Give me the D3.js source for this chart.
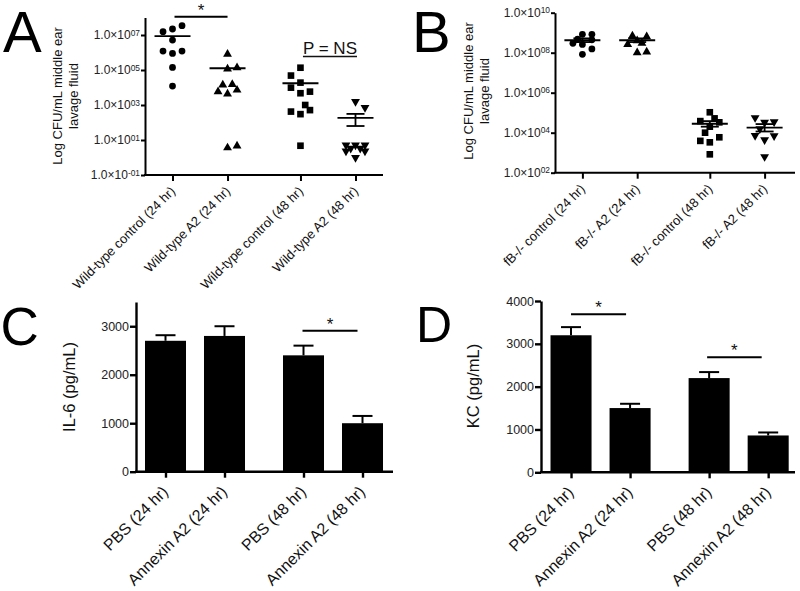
<!DOCTYPE html>
<html><head><meta charset="utf-8">
<script src="https://cdn.jsdelivr.net/npm/d3@7"></script>
<style>
body{margin:0;background:#fff}
svg{display:block}
text{font-family:"Liberation Sans",Arial,Helvetica,sans-serif}
</style>
</head><body>
<svg id="c" width="800" height="591"></svg>
<script>
// ---------------- DATA ----------------
const timepoints = ["24 hr", "48 hr"];
const treatments = ["control", "A2"];

// Panel A
const catsA = ["Wild-type control (24 hr)", "Wild-type A2 (24 hr)", "Wild-type control (48 hr)", "Wild-type A2 (48 hr)"];
const valuesA = [
  [1.55e7, 2.2e7, 3.4e7, 5.1e6, 1.2e6, 8.9e5, 1.2e6, 1.4e5, 1.2e4],
  [8.1e5, 1.15e5, 1.35e5, 1.4e4, 1.5e4, 5.8e3, 4.3e3, 7.2e3, 3.6, 4.6],
  [1.35e5, 4.8e4, 1.9e4, 9.8e3, 4.7e3, 5.8e3, 1.0e3, 420, 300, 510, 4.7],
  [1550, 710, 5.1, 5.1, 5.1, 3.3, 3.3, 2.3, 2.3, 0.98]
];
const slotsA = [
  [-1, 0, 1, 0, -1, 0, 1, 0, 0],
  [0, 0, 1, -0.5, 0.5, -1, 0, 1, 0, 1],
  [0, -1, 0, -1, 0, 1, 0.5, -1, 0, 1, 0],
  [0, 1, -1, 0, 1, -0.5, 0.5, -1, 1, 0]
];
const meansA = [8.7e6, 1.26e5, 1.75e4, 186];
const errLowA = [null, null, null, 63];
const errHighA = [null, null, null, 310];
const ticksA = [1e-1, 1e1, 1e3, 1e5, 1e7];
const tickLabelsA = [["1.0×10", "-01"], ["1.0×10", "01"], ["1.0×10", "03"], ["1.0×10", "05"], ["1.0×10", "07"]];

// Panel B
const catsB = ["fB-/- control (24 hr)", "fB-/- A2 (24 hr)", "fB-/- control (48 hr)", "fB-/- A2 (48 hr)"];
const valuesB = [
  [2.95e8, 4.7e8, 8.3e8, 8.3e8, 2.6e8, 4.4e8, 1.55e8, 8.3e7],
  [6.9e8, 2.6e8, 4.0e8, 2.95e8, 6.3e8, 1.0e8, 1.1e8],
  [1.05e5, 3.8e4, 5.2e4, 3.3e4, 2.0e4, 1.0e4, 3.9e3, 5.9e3, 3.3e3, 830],
  [5.6e4, 3.3e4, 3.5e4, 1.55e4, 7.1e3, 4.4e3, 6.9e3, 630]
];
const slotsB = [
  [-1, -0.5, 0, 1, 0, 1, 1, 0],
  [-0.5, -1, 0, 0.5, 1, 0, 1],
  [0, -1, 0.5, 1, 0, -0.5, -1, 1, 0, 0],
  [-1, 0, 1, -0.5, -1, 0, 1, 0]
];
const meansB = [4.2e8, 4.2e8, 2.8e4, 1.8e4];
const errLowB = [3.4e8, 3.4e8, 2.0e4, 1.15e4];
const errHighB = [5.2e8, 5.2e8, 3.8e4, 2.7e4];
const ticksB = [1e2, 1e4, 1e6, 1e8, 1e10];
const tickLabelsB = [["1.0×10", "02"], ["1.0×10", "04"], ["1.0×10", "06"], ["1.0×10", "08"], ["1.0×10", "10"]];

// Panel C
const catsC = ["PBS (24 hr)", "Annexin A2 (24 hr)", "PBS (48 hr)", "Annexin A2 (48 hr)"];
const valuesC = [2700, 2800, 2400, 1000];
const semC = [115, 200, 200, 150];
const ticksC = [0, 1000, 2000, 3000];

// Panel D
const catsD = ["PBS (24 hr)", "Annexin A2 (24 hr)", "PBS (48 hr)", "Annexin A2 (48 hr)"];
const valuesD = [3200, 1500, 2200, 860];
const semD = [190, 100, 140, 70];
const ticksD = [0, 1000, 2000, 3000, 4000];

// ---------------- DRAWING ----------------
const svg = d3.select("#c");
const FONT = '"Liberation Sans",Arial,Helvetica,sans-serif';
const shapes = [d3.symbolCircle, d3.symbolTriangle, d3.symbolSquare, d3.symbolTriangle];
const shapeSize = [36, 34, 44, 34];
const shapeRot = [0, 0, 0, 180];

function styleAxis(ga, sw, fs) {
  ga.attr("font-family", FONT);
  ga.select(".domain").attr("stroke", "#000").attr("stroke-width", sw);
  ga.selectAll(".tick line").attr("stroke", "#000").attr("stroke-width", sw);
  ga.selectAll(".tick text").attr("fill", "#222").attr("font-size", fs).attr("font-family", FONT);
}

function panelLetter(txt, x, y, fs) {
  svg.append("text").attr("x", x).attr("y", y).attr("font-size", fs).attr("fill", "#000").text(txt);
}

function yLabel(lines, x0, cy, fs, gap) {
  lines.forEach((l, i) => {
    svg.append("text")
      .attr("transform", `translate(${x0 + i * gap},${cy}) rotate(-90)`)
      .attr("text-anchor", "middle").attr("font-size", fs).attr("fill", "#111").text(l);
  });
}

function xLabels(ga, dx, dy, fs) {
  ga.selectAll(".tick text")
    .attr("text-anchor", "end").attr("dy", null).attr("y", null).attr("x", null)
    .attr("transform", `translate(${dx},${dy}) rotate(-45)`)
    .attr("font-size", fs).attr("fill", "#111");
}

function scatterPanel(cfg) {
  const y = d3.scaleLog().domain(cfg.yDomain).range(cfg.yRange);
  const xo = d3.scaleBand().domain(timepoints).range(cfg.bandRange).paddingInner(0.14).paddingOuter(0);
  const xi = d3.scalePoint().domain(treatments).range([0, xo.bandwidth()]).padding(0.5);
  const catX = i => xo(timepoints[Math.floor(i / 2)]) + xi(treatments[i % 2]);
  const xc = d3.scaleOrdinal().domain(cfg.cats).range(cfg.cats.map((c, i) => catX(i)));
  const g = svg.append("g");
  const x0 = cfg.axisX, yb = y(cfg.yDomain[0]);

  // y axis
  const ga = g.append("g").attr("transform", `translate(${x0},0)`)
    .call(d3.axisLeft(y).tickValues(cfg.ticks).tickSize(4).tickSizeOuter(0).tickPadding(1).tickFormat(() => ""));
  styleAxis(ga, 2, 12);
  ga.selectAll(".tick text").each(function (d, i) {
    const t = d3.select(this);
    t.text(null);
    t.append("tspan").text(cfg.tickLabels[i][0]);
    t.append("tspan").attr("dy", "-0.45em").attr("font-size", "0.7em").text(cfg.tickLabels[i][1]);
  });
  // x axis line
  g.append("line").attr("x1", x0 - 1).attr("x2", cfg.axisEnd).attr("y1", yb).attr("y2", yb)
    .attr("stroke", "#000").attr("stroke-width", 2);
  const gx = g.append("g").attr("transform", `translate(0,${yb})`)
    .call(d3.axisBottom(xc).tickSize(6).tickSizeOuter(0));
  gx.select(".domain").remove();
  styleAxis(gx, 2, 13);
  xLabels(gx, 3, 17, 13);

  // points
  cfg.values.forEach((vals, gi) => {
    g.append("g").selectAll("path").data(vals).join("path")
      .attr("d", d3.symbol().type(shapes[gi]).size(shapeSize[gi]))
      .attr("transform", (v, k) => `translate(${catX(gi) + cfg.slots[gi][k] * 9.5},${y(v)}) rotate(${shapeRot[gi]})`)
      .attr("fill", "#000");
    const cx = catX(gi);
    g.append("line").attr("x1", cx - 18).attr("x2", cx + 18).attr("y1", y(cfg.means[gi])).attr("y2", y(cfg.means[gi]))
      .attr("stroke", "#000").attr("stroke-width", 1.8);
    if (cfg.errLow[gi] != null) {
      const lo = y(cfg.errLow[gi]), hi = y(cfg.errHigh[gi]);
      g.append("line").attr("x1", cx).attr("x2", cx).attr("y1", lo).attr("y2", hi).attr("stroke", "#000").attr("stroke-width", 1.8);
      [lo, hi].forEach(yy => g.append("line").attr("x1", cx - 9).attr("x2", cx + 9).attr("y1", yy).attr("y2", yy)
        .attr("stroke", "#000").attr("stroke-width", 1.8));
    }
  });
  return { catX, y };
}

function barPanel(cfg) {
  const y = d3.scaleLinear().domain(cfg.yDomain).range(cfg.yRange);
  const xo = d3.scaleBand().domain(timepoints).range(cfg.bandRange).paddingInner(0.0145).paddingOuter(0);
  const xi = d3.scaleBand().domain(treatments).range([0, xo.bandwidth()]).padding(0.305);
  const barX = i => xo(timepoints[Math.floor(i / 2)]) + xi(treatments[i % 2]);
  const catX = i => barX(i) + xi.bandwidth() / 2;
  const xc = d3.scaleOrdinal().domain(cfg.cats).range(cfg.cats.map((c, i) => catX(i)));
  const g = svg.append("g");
  const x0 = cfg.axisX, yb = y(0);

  const ga = g.append("g").attr("transform", `translate(${x0},0)`)
    .call(d3.axisLeft(y).tickValues(cfg.ticks).tickFormat(d3.format("d")).tickSize(6).tickSizeOuter(0).tickPadding(1));
  styleAxis(ga, 2.4, 12.5);

  // bars
  g.append("g").selectAll("rect").data(cfg.values).join("rect")
    .attr("x", (v, i) => barX(i)).attr("width", xi.bandwidth())
    .attr("y", v => y(v)).attr("height", v => yb - y(v)).attr("fill", "#000");
  // error bars (upper)
  cfg.values.forEach((v, i) => {
    const cx = catX(i), top = y(v + cfg.sem[i]);
    g.append("line").attr("x1", cx).attr("x2", cx).attr("y1", y(v)).attr("y2", top).attr("stroke", "#000").attr("stroke-width", 2);
    g.append("line").attr("x1", cx - 10).attr("x2", cx + 10).attr("y1", top).attr("y2", top).attr("stroke", "#000").attr("stroke-width", 2);
  });

  g.append("line").attr("x1", x0 - 1).attr("x2", cfg.axisEnd).attr("y1", yb).attr("y2", yb)
    .attr("stroke", "#000").attr("stroke-width", 2.4);
  const gx = g.append("g").attr("transform", `translate(0,${yb})`)
    .call(d3.axisBottom(xc).tickSize(6).tickSizeOuter(0));
  gx.select(".domain").remove();
  styleAxis(gx, 2.4, 16);
  xLabels(gx, 3, 21, 16);
  return { catX, y };
}

function sigStar(x1, x2, yLine, fs) {
  svg.append("line").attr("x1", x1).attr("x2", x2).attr("y1", yLine).attr("y2", yLine)
    .attr("stroke", "#000").attr("stroke-width", 2);
  svg.append("text").attr("x", (x1 + x2) / 2).attr("y", yLine - 1).attr("text-anchor", "middle")
    .attr("font-size", fs).attr("fill", "#111").text("*");
}

// ---- Panel A ----
const pA = scatterPanel({
  cats: catsA, values: valuesA, slots: slotsA, means: meansA, errLow: errLowA, errHigh: errHighA,
  yDomain: [1e-1, 1e8], yRange: [175, 17.5], bandRange: [145, 383], axisX: 145, axisEnd: 383,
  ticks: ticksA, tickLabels: tickLabelsA
});
panelLetter("A", 3, 52, 58);
yLabel(["Log CFU/mL middle ear", "lavage fluid"], 62, 96, 13, 16);
sigStar(pA.catX(0) + 2, pA.catX(1), 16.7, 17);
{
  const cx = (pA.catX(2) + pA.catX(3)) / 2 + 2;
  const t = svg.append("text").attr("x", cx).attr("y", 54).attr("text-anchor", "middle")
    .attr("font-size", 17).attr("fill", "#111").text("P = NS");
  const w = t.node().getComputedTextLength();
  svg.append("line").attr("x1", cx - w / 2).attr("x2", cx + w / 2).attr("y1", 56.5).attr("y2", 56.5)
    .attr("stroke", "#111").attr("stroke-width", 1.3);
}

// ---- Panel B ----
scatterPanel({
  cats: catsB, values: valuesB, slots: slotsB, means: meansB, errLow: errLowB, errHigh: errHighB,
  yDomain: [1e2, 1e10], yRange: [172.7, 12.7], bandRange: [555, 792], axisX: 555, axisEnd: 795,
  ticks: ticksB, tickLabels: tickLabelsB
});
panelLetter("B", 412, 52, 58);
yLabel(["Log CFU/mL middle ear", "lavage fluid"], 473, 91, 13, 16);

// ---- Panel C ----
const pC = barPanel({
  cats: catsC, values: valuesC, sem: semC, yDomain: [0, 3500], yRange: [471.7, 302],
  bandRange: [127, 401], axisX: 136, axisEnd: 393, ticks: ticksC
});
panelLetter("C", 0.5, 345, 53);
yLabel(["IL-6 (pg/mL)"], 75, 387, 16.5, 0);
sigStar(pC.catX(2) - 1, pC.catX(3) - 5, 330.7, 17);

// ---- Panel D ----
const pD = barPanel({
  cats: catsD, values: valuesD, sem: semD, yDomain: [0, 4000], yRange: [472.3, 301],
  bandRange: [532.5, 806.7], axisX: 541, axisEnd: 795, ticks: ticksD
});
panelLetter("D", 416, 342, 50);
yLabel(["KC (pg/mL)"], 479, 386, 16.5, 0);
sigStar(pD.catX(0), pD.catX(1) - 4, 314.3, 17);
sigStar(pD.catX(2) - 2, pD.catX(3) - 6.5, 357.3, 17);
</script>
</body></html>
